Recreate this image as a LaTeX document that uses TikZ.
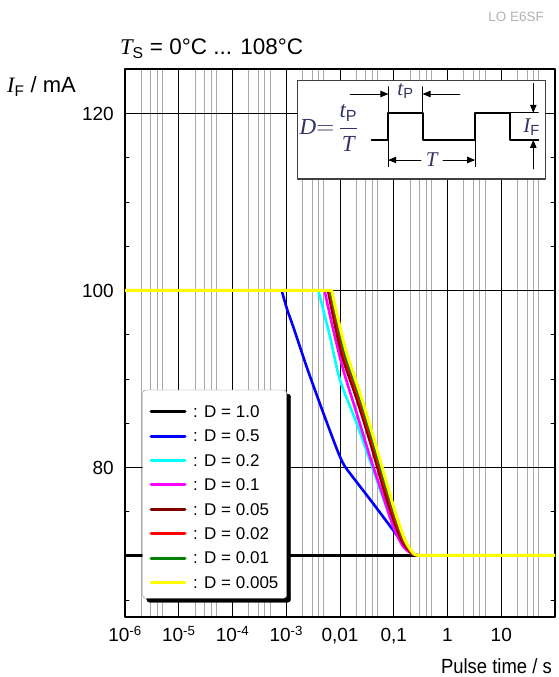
\documentclass[tikz,border=0pt]{standalone}
\usepackage{fontspec}
\setmainfont{Liberation Sans}
\newfontfamily\timesfont{Liberation Serif}
\newfontfamily\narrowfont[FakeStretch=0.9]{Liberation Sans}
\usetikzlibrary{arrows}
\definecolor{qqqqff}{rgb}{0,0,1}
\definecolor{qqffff}{rgb}{0,1,1}
\definecolor{ffqqff}{rgb}{1,0,1}
\definecolor{xdqqqq}{rgb}{0.5,0,0}
\definecolor{ffqqqq}{rgb}{1,0,0}
\definecolor{qqxdqq}{rgb}{0,0.5,0}
\definecolor{ffffqq}{rgb}{1,1,0}
\definecolor{sqsqsq}{rgb}{0.66,0.66,0.66}
\definecolor{ttttww}{rgb}{0.2,0.2,0.4}
\newcommand{\vi}[1]{\hbox{\timesfont\itshape #1}}
\tikzset{gridln/.style={color=sqsqsq,line width=0.8pt},
  dcurve/.style={line width=2.6pt},
  legln/.style={line width=3pt},
  ticklab/.style={font=\fontsize{19}{22}\selectfont},
  legtext/.style={anchor=west,inner sep=0pt,font=\fontsize{17}{20}\selectfont}}
\begin{document}
\begin{tikzpicture}[line cap=round,line join=round,>=triangle 45,x=1pt,y=1pt]
\useasboundingbox (0,0) rectangle (558,677);
% minor grid, 2 3 4 5 in each decade
\draw [gridln] (141.18,60)-- (141.18,608) (150.65,60)-- (150.65,608) (157.36,60)-- (157.36,608) (162.57,60)-- (162.57,608);
\draw [gridln] (194.93,60)-- (194.93,608) (204.4,60)-- (204.4,608) (211.11,60)-- (211.11,608) (216.32,60)-- (216.32,608);
\draw [gridln] (248.68,60)-- (248.68,608) (258.15,60)-- (258.15,608) (264.86,60)-- (264.86,608) (270.07,60)-- (270.07,608);
\draw [gridln] (302.43,60)-- (302.43,608) (311.9,60)-- (311.9,608) (318.61,60)-- (318.61,608) (323.82,60)-- (323.82,608);
\draw [gridln] (356.18,60)-- (356.18,608) (365.65,60)-- (365.65,608) (372.36,60)-- (372.36,608) (377.57,60)-- (377.57,608);
\draw [gridln] (409.93,60)-- (409.93,608) (419.4,60)-- (419.4,608) (426.11,60)-- (426.11,608) (431.32,60)-- (431.32,608);
\draw [gridln] (463.68,60)-- (463.68,608) (473.15,60)-- (473.15,608) (479.86,60)-- (479.86,608) (485.07,60)-- (485.07,608);
\draw [gridln] (517.43,60)-- (517.43,608) (526.9,60)-- (526.9,608) (533.61,60)-- (533.61,608) (538.82,60)-- (538.82,608);
% decades and 120 / 100 / 80 mA
\draw [line width=0.9pt] (178.75,60)-- (178.75,608) (232.5,60)-- (232.5,608) (286.25,60)-- (286.25,608) (340,60)-- (340,608) (393.75,60)-- (393.75,608) (447.5,60)-- (447.5,608) (501.25,60)-- (501.25,608);
\draw [line width=0.9pt] (125,563.5)-- (555,563.5) (125,386.5)-- (555,386.5) (125,209.5)-- (555,209.5);
\draw [line width=0.9pt] (125,519.25)-- (129,519.25) (125,475)-- (129,475) (125,430.75)-- (129,430.75) (125,342.25)-- (129,342.25) (125,298)-- (129,298) (125,253.75)-- (129,253.75) (125,165.25)-- (129,165.25) (125,76.75)-- (129,76.75);
\draw [line width=0.9pt] (551,519.25)-- (555,519.25) (551,475)-- (555,475) (551,430.75)-- (555,430.75) (551,342.25)-- (555,342.25) (551,298)-- (555,298) (551,253.75)-- (555,253.75) (551,165.25)-- (555,165.25) (551,76.75)-- (555,76.75);
\draw [line width=1.2pt] (125,60) rectangle (555,608);
\begin{scope}
\clip (125,60) rectangle (555,608);
\draw [dcurve,color=black] (125,121.5)-- (555,121.5);
\draw [dcurve,color=qqqqff] (125,386.5)-- (281.7,386.5) -- plot[smooth] coordinates {(281.7,386.5) (287,368) (293.3,350) (306.7,310) (320,273) (330,246) (338,225) (344,212) (352,201) (362,188) (372,175) (383.3,160) (396.7,142) (406.7,129) (413.3,123) (420,121.5)} -- (555,121.5);
\draw [dcurve,color=qqffff] (125,386.5)-- (318.3,386.5) -- plot[smooth] coordinates {(318.3,386.5) (330,340.3) (340,297) (356.7,253.7) (373.3,207) (390,160.3) (403.3,133.7) (413.3,123) (420,121.5)} -- (555,121.5);
\draw [dcurve,color=ffqqff] (125,386.5)-- (324.5,386.5) -- plot[smooth] coordinates {(324.5,386.5) (333.3,347) (343.3,307) (356.7,263.7) (370,220.3) (383.3,180.3) (393.3,150.3) (403.3,130.3) (413.3,122.5) (420,121.5)} -- (555,121.5);
\draw [dcurve,color=xdqqqq] (125,386.5)-- (328,386.5) -- plot[smooth] coordinates {(328,386.5) (335,352) (343,318) (356,280) (369.5,237) (383,190) (393.5,157) (402.5,135) (412,123.5) (420,121.5)} -- (555,121.5);
\draw [dcurve,color=ffqqqq] (125,386.5)-- (329.5,386.5) -- plot[smooth] coordinates {(329.5,386.5) (336.5,354) (344.5,320.5) (357.5,282) (371,238.5) (384.5,192) (395,158.5) (403.5,136) (412.5,123.5) (420,121.5)} -- (555,121.5);
\draw [dcurve,color=qqxdqq] (125,386.5)-- (330.5,386.5) -- plot[smooth] coordinates {(330.5,386.5) (337.5,355.5) (345.5,322) (358.8,283) (372,239.5) (385.5,193) (396,159.5) (404.3,136.5) (413,123.6) (420,121.5)} -- (555,121.5);
\draw [line width=3pt,color=ffffqq] (125,386.5)-- (331.7,386.5) -- plot[smooth] coordinates {(331.7,386.5) (338.3,357) (346.7,323.7) (360,283.7) (373.3,240.3) (386.7,193.7) (396.7,160.3) (405,137) (413.3,123.7) (420,121.5)} -- (555,121.5);
\end{scope}
% pulse sketch
\draw [draw=darkgray,fill=white,line width=1.2pt] (297.3,498) rectangle (545.7,596.3);
\draw [line width=2.2pt] (371.7,537)-- (388.3,537)-- (388.3,564.3)-- (422.7,564.3)-- (422.7,537)-- (475,537)-- (475,564.3)-- (510,564.3)-- (510,537)-- (538.3,537);
\draw [line width=0.8pt] (388.3,590.3)-- (388.3,510.3) (422.7,590.3)-- (422.7,564.3) (475,564.3)-- (475,510.3) (510,564.3)-- (538.3,564.3);
\draw [->,line width=0.8pt] (350,583)-- (388.3,583);
\draw [->,line width=0.8pt] (460,583)-- (422.7,583);
\draw [->,line width=0.8pt] (421,517)-- (388.3,517);
\draw [->,line width=0.8pt] (443,517)-- (475,517);
\draw [->,line width=0.8pt] (533.3,593.7)-- (533.3,564.3);
\draw [->,line width=0.8pt] (533.3,508)-- (533.3,537);
\node [color=ttttww,inner sep=0pt,font=\fontsize{23}{27}\selectfont] (duty) at (329,549) {$\vi{D}{=}\,\displaystyle\frac{\vi{t}_\mathrm{P}}{\vi{T}}$};
\node [color=ttttww,fill=white,inner sep=1pt,font=\fontsize{21}{24}\selectfont] (tp) at (405.5,586) {$\vi{t}_\mathrm{P}$};
\node [color=ttttww,fill=white,inner sep=1pt,font=\fontsize{21}{24}\selectfont] (per) at (431.7,517) {\vi{T}};
\node [color=ttttww,font=\fontsize{21}{24}\selectfont] (ifl) at (531.7,550) {$\vi{I}_\mathrm{F}$};
% legend
\draw [fill=black,rounded corners=3pt] (146.7,74.7) rectangle (290.7,283);
\draw [draw=gray,fill=white,rounded corners=3pt] (142.7,78.7) rectangle (286.7,287);
\draw [legln,color=black] (151,265.3)-- (185,265.3);
\draw [legln,color=qqqqff] (151,240.9)-- (185,240.9);
\draw [legln,color=qqffff] (151,216.5)-- (185,216.5);
\draw [legln,color=ffqqff] (151,192.1)-- (185,192.1);
\draw [legln,color=xdqqqq] (151,167.7)-- (185,167.7);
\draw [legln,color=ffqqqq] (151,143.3)-- (185,143.3);
\draw [legln,color=qqxdqq] (151,118.9)-- (185,118.9);
\draw [legln,color=ffffqq] (151,94.5)-- (185,94.5);
\node [legtext] (l1) at (193,265.3) {: D = 1.0};
\node [legtext] (l2) at (193,240.9) {: D = 0.5};
\node [legtext] (l3) at (193,216.5) {: D = 0.2};
\node [legtext] (l4) at (193,192.1) {: D = 0.1};
\node [legtext] (l5) at (193,167.7) {: D = 0.05};
\node [legtext] (l6) at (193,143.3) {: D = 0.02};
\node [legtext] (l7) at (193,118.9) {: D = 0.01};
\node [legtext] (l8) at (193,94.5) {: D = 0.005};
% axis texts
\node [ticklab,anchor=east,inner sep=0pt] (y120) at (114,563.5) {120};
\node [ticklab,anchor=east,inner sep=0pt] (y100) at (114,386.5) {100};
\node [ticklab,anchor=east,inner sep=0pt] (y80) at (114,209.5) {80};
\node [ticklab,anchor=base,inner sep=0pt] (x1) at (125,35.3) {10\textsuperscript{-6}};
\node [ticklab,anchor=base,inner sep=0pt] (x2) at (178.75,35.3) {10\textsuperscript{-5}};
\node [ticklab,anchor=base,inner sep=0pt] (x3) at (232.5,35.3) {10\textsuperscript{-4}};
\node [ticklab,anchor=base,inner sep=0pt] (x4) at (286.25,35.3) {10\textsuperscript{-3}};
\node [ticklab,anchor=base,inner sep=0pt] (x5) at (340,35.3) {0,01};
\node [ticklab,anchor=base,inner sep=0pt] (x6) at (393.75,35.3) {0,1};
\node [ticklab,anchor=base,inner sep=0pt] (x7) at (447.5,35.3) {1};
\node [ticklab,anchor=base,inner sep=0pt] (x8) at (501.25,35.3) {10};
\node [anchor=base west,inner sep=0pt,font=\fontsize{22}{26}\selectfont] (ylab) at (7,584) {\vi{I}$_\mathrm{F}$ / mA};
\node [anchor=base west,inner sep=0pt,font=\fontsize{22.5}{26}\selectfont] (tstitle) at (120,622) {\vi{T}$_\mathrm{S}$ = 0°C ... 108°C};
\node [anchor=base east,inner sep=0pt,font=\narrowfont\fontsize{20.5}{24}\selectfont] (xlab) at (552,4) {Pulse time / s};
\node [anchor=base east,inner sep=0pt,color=gray!60,font=\fontsize{13.5}{16}\selectfont] (code) at (544,655) {LO E6SF};
\end{tikzpicture}
\end{document}
